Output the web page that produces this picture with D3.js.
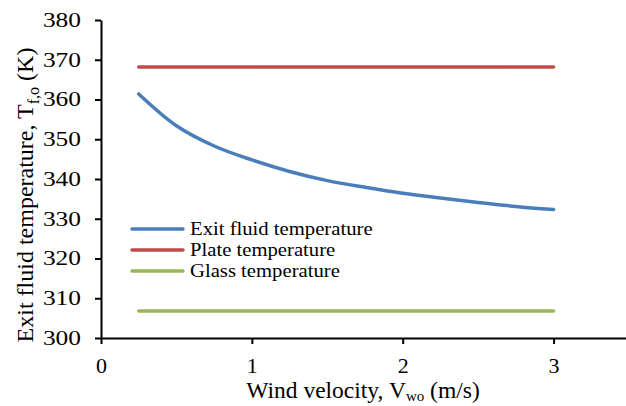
<!DOCTYPE html>
<html>
<head>
<meta charset="utf-8">
<script src="https://cdn.jsdelivr.net/npm/d3@7"></script>
<style>
  body { margin: 0; background: #fff; }
  text { font-family: "Liberation Serif", "Times New Roman", serif; fill: #000; }
</style>
</head>
<body>
<div id="chart"></div>
<script>
// Chart size and margins
var svgWidth = 626;
var svgHeight = 406;

var margin = { top: 20, right: -3, bottom: 68, left: 101 };

var width = svgWidth - margin.left - margin.right;
var height = svgHeight - margin.top - margin.bottom;

// Data
var windVelocity = [0.25, 0.5, 0.75, 1.0, 1.25, 1.5, 1.75, 2.0, 2.25, 2.5, 2.75, 3.0];
var exitFluidTemp = [361.4, 353.4, 348.3, 344.8, 341.9, 339.6, 337.9, 336.4, 335.2, 334.1, 333.1, 332.3];
var plateTemp = [368.2, 368.2, 368.2, 368.2, 368.2, 368.2, 368.2, 368.2, 368.2, 368.2, 368.2, 368.2];
var glassTemp = [306.8, 306.8, 306.8, 306.8, 306.8, 306.8, 306.8, 306.8, 306.8, 306.8, 306.8, 306.8];

var seriesNames = ["Exit fluid temperature", "Plate temperature", "Glass temperature"];
var seriesColors = ["#4a7ebb", "#be4b48", "#98b954"];
var xTicks = [0, 1, 2, 3];
var yTicks = [300, 310, 320, 330, 340, 350, 360, 370, 380];

var svg = d3.select("#chart")
  .append("svg")
  .attr("width", svgWidth)
  .attr("height", svgHeight);

var chartGroup = svg.append("g")
  .attr("transform", `translate(${margin.left}, ${margin.top})`);

// scales
var xScale = d3.scaleLinear().domain([0, 3.5]).range([0, width]);
var yScale = d3.scaleLinear().domain([300, 380]).range([height, 0]);

// axes
var bottomAxis = d3.axisBottom(xScale).tickValues(xTicks).tickFormat(d3.format("d"))
  .tickSize(6).tickSizeOuter(0);
var leftAxis = d3.axisLeft(yScale).tickValues(yTicks).tickFormat(d3.format("d"))
  .tickSize(6).tickSizeOuter(0);

var xAxis = chartGroup.append("g")
  .attr("transform", `translate(0, ${height})`)
  .call(bottomAxis);

var yAxis = chartGroup.append("g")
  .call(leftAxis);

[xAxis, yAxis].forEach(function(ax) {
  ax.attr("font-family", null).attr("font-size", null);
  ax.selectAll("path, line").attr("stroke", "#000").attr("stroke-width", 2);
});

// the reference type is a little wider than normal, so stretch it sideways
xAxis.selectAll("text")
  .style("font-size", "22px")
  .attr("y", 35)
  .attr("dy", null);

yAxis.selectAll("text")
  .style("font-size", "20px")
  .attr("x", 0)
  .attr("transform", "translate(-20, 0) scale(1.27, 1)");

// lines
var allSeries = [exitFluidTemp, plateTemp, glassTemp];
var line = d3.line()
  .x((d, i) => xScale(windVelocity[i]))
  .y(d => yScale(d))
  .curve(d3.curveCatmullRom);

allSeries.forEach(function(values, i) {
  chartGroup.append("path")
    .datum(values)
    .attr("fill", "none")
    .attr("stroke", seriesColors[i])
    .attr("stroke-width", 3.5)
    .attr("stroke-linecap", "round")
    .attr("d", line);
});

// legend
var legend = svg.append("g").attr("transform", "translate(132, 229)");
seriesNames.forEach(function(name, i) {
  var row = legend.append("g").attr("transform", `translate(0, ${i * 21})`);
  row.append("line")
    .attr("x1", 0).attr("x2", 51)
    .attr("stroke", seriesColors[i])
    .attr("stroke-width", 3.5)
    .attr("stroke-linecap", "round");
  row.append("text")
    .attr("transform", "translate(58, 0) scale(1.15, 1)")
    .attr("dy", "0.33em")
    .style("font-size", "18px")
    .text(name);
});

// x axis title
var xTitle = svg.append("text")
  .attr("x", 363)
  .attr("y", 398)
  .attr("text-anchor", "middle")
  .style("font-size", "23.5px");
xTitle.append("tspan").text("Wind velocity, V");
xTitle.append("tspan").attr("dy", 3).style("font-size", "15px").text("wo");
xTitle.append("tspan").attr("dy", -3).text(" (m/s)");

// y axis title
var yTitle = svg.append("text")
  .attr("transform", "translate(33, 195) rotate(-90)")
  .attr("text-anchor", "middle")
  .style("font-size", "24px");
yTitle.append("tspan").text("Exit fluid temperature, T");
yTitle.append("tspan").attr("dy", 6).style("font-size", "16px").text("f,o");
yTitle.append("tspan").attr("dy", -6).text(" (K)");
</script>
</body>
</html>
